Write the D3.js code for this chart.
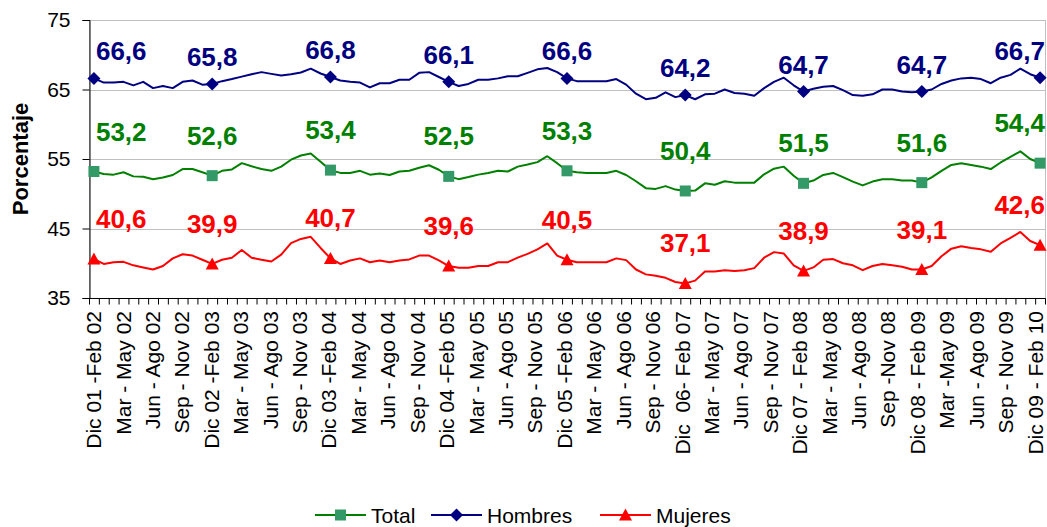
<!DOCTYPE html>
<html><head><meta charset="utf-8">
<script src="https://cdn.jsdelivr.net/npm/d3@7"></script>
<style>
body{margin:0;background:#fff;}
svg{display:block;font-family:Arial,"Liberation Sans",sans-serif;}
</style></head><body>
<svg id="chart" width="1047" height="527"></svg>
<script>
// ---------- data ----------
const tickLabels = [
  "Dic 01 -Feb 02","Mar - May 02","Jun - Ago 02","Sep - Nov 02",
  "Dic 02 -Feb 03","Mar - May 03","Jun - Ago 03","Sep - Nov 03",
  "Dic 03 -Feb 04","Mar - May 04","Jun - Ago 04","Sep - Nov 04",
  "Dic 04 -Feb 05","Mar - May 05","Jun - Ago 05","Sep - Nov 05",
  "Dic 05 -Feb 06","Mar - May 06","Jun - Ago 06","Sep - Nov 06",
  "Dic  06- Feb 07","Mar - May 07","Jun - Ago 07","Sep - Nov 07",
  "Dic 07 - Feb 08","Mar - May 08","Jun - Ago 08","Sep -Nov 08",
  "Dic 08 - Feb 09","Mar -May 09","Jun - Ago 09","Sep - Nov 09",
  "Dic 09 - Feb 10"
];
const total = [
  53.2,52.85,52.75,53.1,52.5,52.45,52.1,52.35,52.7,53.55,53.55,53.1,
  52.6,53.3,53.5,54.4,53.95,53.55,53.3,53.9,54.9,55.5,55.8,54.6,
  53.4,53.0,53.0,53.3,52.75,52.9,52.7,53.2,53.3,53.75,54.1,53.45,
  52.5,52.1,52.4,52.75,53.0,53.3,53.2,53.9,54.2,54.55,55.4,54.4,
  53.3,53.1,53.0,53.0,53.0,53.3,52.7,51.8,50.8,50.7,51.1,50.6,
  50.4,50.45,51.5,51.3,51.8,51.6,51.6,51.6,52.8,53.6,53.9,52.6,
  51.5,51.9,52.7,53.0,52.4,51.75,51.2,51.75,52.1,52.1,51.9,51.9,
  51.6,52.35,53.3,54.15,54.4,54.15,53.9,53.55,54.5,55.3,56.1,55.0,
  54.4
];
const hombres = [
  66.6,66.0,66.0,66.1,65.6,66.1,65.2,65.5,65.2,66.1,66.3,65.7,
  65.8,66.2,66.5,66.85,67.2,67.5,67.25,67.0,67.2,67.45,68.0,67.3,
  66.8,66.3,66.1,66.0,65.3,65.9,65.9,66.4,66.4,67.4,67.5,66.8,
  66.1,65.5,65.8,66.4,66.4,66.6,66.9,66.9,67.4,67.9,68.1,67.5,
  66.6,66.2,66.2,66.2,66.2,66.5,65.7,64.4,63.6,63.8,64.6,63.9,
  64.2,63.6,64.3,64.4,65.0,64.5,64.4,64.1,65.2,66.1,66.7,65.6,
  64.7,65.1,65.4,65.5,64.9,64.2,64.1,64.3,65.0,65.0,64.7,64.6,
  64.7,65.0,65.8,66.3,66.6,66.7,66.5,65.9,66.7,67.1,68.0,67.2,
  66.7
];
const mujeres = [
  40.6,39.9,40.15,40.2,39.7,39.4,39.1,39.6,40.7,41.3,41.1,40.5,
  39.9,40.5,40.8,41.9,40.8,40.5,40.25,41.25,42.9,43.5,43.8,42.2,
  40.7,39.9,40.4,40.7,40.15,40.4,40.15,40.4,40.55,41.1,41.1,40.4,
  39.6,39.35,39.35,39.6,39.6,40.15,40.15,40.8,41.35,42.0,42.85,41.1,
  40.5,40.15,40.15,40.15,40.15,40.7,40.45,39.1,38.4,38.2,37.9,37.3,
  37.1,37.5,38.8,38.8,39.0,38.9,39.0,39.3,40.8,41.6,41.4,39.7,
  38.9,39.4,40.5,40.6,40.0,39.7,39.0,39.6,39.9,39.7,39.5,39.1,
  39.1,39.6,41.0,42.1,42.45,42.2,42.0,41.65,42.85,43.65,44.5,43.2,
  42.6
];
const yTicks = [35, 45, 55, 65, 75];
const seriesNames = ["Total", "Hombres", "Mujeres"];

// ---------- layout / style ----------
const W = 1047, H = 527;
const plot = {left: 89, right: 1045, top: 20, bottom: 298};
const labelEvery = 3, markerEvery = 12;
const styles = {
  Total:   {line: "#008000", marker: "#339966", label: "#008000", shape: "square",   off: 31},
  Hombres: {line: "#000080", marker: "#000080", label: "#000080", shape: "diamond",  off: 18},
  Mujeres: {line: "#ff0000", marker: "#ff0000", label: "#ff0000", shape: "triangle", off: 31}
};
const values = {Total: total, Hombres: hombres, Mujeres: mujeres};
const n = total.length;

const svg = d3.select("#chart");

const x = d3.scaleLinear().domain([-0.5, n - 0.5]).range([plot.left, plot.right]);
const y = d3.scaleLinear().domain([35, 75]).range([plot.bottom, plot.top]);
// category-label placement (labels sit slightly tighter than the points, as in the source)
const xLabelPos = d3.scaleLinear().domain([0, n - 1]).range([x(0), x(n - 1) - 4.8]);

// plot border
svg.append("rect")
  .attr("x", plot.left + 0.5).attr("y", plot.top + 0.5)
  .attr("width", plot.right - plot.left).attr("height", plot.bottom - plot.top)
  .attr("fill", "none").attr("stroke", "#c0c0c0");

// gridlines
svg.append("g").selectAll("line").data(yTicks.slice(1)).join("line")
  .attr("x1", plot.left).attr("x2", plot.right)
  .attr("y1", d => Math.round(y(d)) + 0.5).attr("y2", d => Math.round(y(d)) + 0.5)
  .attr("stroke", "#c0c0c0").attr("stroke-width", 1);

// y axis
const yAxis = svg.append("g").attr("transform", `translate(${plot.left + 0.5},0)`)
  .call(d3.axisLeft(y).tickValues(yTicks).tickSize(7).tickPadding(12).tickFormat(d3.format("d")));
yAxis.selectAll("path,line").attr("stroke", "#000");
yAxis.selectAll("text").attr("font-size", 21).attr("fill", "#000")
  .attr("font-family", 'Arial,"Liberation Sans",sans-serif');

// x axis: ticks at category boundaries
const xAxis = svg.append("g").attr("transform", `translate(0,${plot.bottom + 0.5})`)
  .call(d3.axisBottom(x).tickValues(d3.range(-0.5, n, 1)).tickSize(6).tickFormat(""));
xAxis.selectAll("path,line").attr("stroke", "#000");
xAxis.select(".domain").attr("d", `M${plot.left},0H${plot.right + 0.5}`);

// x labels
const labelIdx = d3.range(0, n, labelEvery);
const xLab = svg.append("g").attr("transform", `translate(0,${plot.bottom})`)
  .call(d3.axisBottom(xLabelPos).tickValues(labelIdx).tickSize(0).tickFormat(i => tickLabels[i / labelEvery]));
xLab.select(".domain").remove();
xLab.selectAll("text")
  .attr("transform", "rotate(-90)")
  .attr("text-anchor", "end")
  .attr("x", -13).attr("y", 0).attr("dy", "0.32em")
  .attr("font-size", 21).attr("fill", "#000")
  .attr("font-family", 'Arial,"Liberation Sans",sans-serif')
  .style("white-space", "pre");

// y title
svg.append("text")
  .attr("transform", `translate(28,${(plot.top + plot.bottom) / 2}) rotate(-90)`)
  .attr("text-anchor", "middle")
  .attr("font-size", 22).attr("font-weight", "bold").attr("fill", "#000")
  .text("Porcentaje");

// marker shapes
function shapePath(shape) {
  if (shape === "square") return "M-5.5,-5.5H5.5V5.5H-5.5Z";
  if (shape === "diamond") return "M0,-6.5L6.5,0L0,6.5L-6.5,0Z";
  return "M0,-6.5L6.5,5.5H-6.5Z";
}

const line = d3.line().x((d, i) => x(i)).y(d => y(d));
const fmt = v => d3.format(".1f")(v).replace(".", ",");
const markIdx = d3.range(0, n, markerEvery);

seriesNames.forEach(name => {
  const st = styles[name];
  svg.append("path").datum(values[name])
    .attr("d", line).attr("fill", "none")
    .attr("stroke", st.line).attr("stroke-width", 2).attr("stroke-linejoin", "round");
});
seriesNames.forEach(name => {
  const st = styles[name];
  svg.append("g").selectAll("path").data(markIdx).join("path")
    .attr("transform", i => `translate(${x(i)},${y(values[name][i])})`)
    .attr("d", shapePath(st.shape)).attr("fill", st.marker);
});
seriesNames.forEach(name => {
  const st = styles[name];
  svg.append("g").selectAll("text").data(markIdx).join("text")
    .attr("x", i => i === 0 ? x(i) + 2 : (i === n - 1 ? plot.right : x(i)))
    .attr("y", i => y(values[name][i]) - st.off)
    .attr("text-anchor", i => i === 0 ? "start" : (i === n - 1 ? "end" : "middle"))
    .attr("font-size", 26).attr("font-weight", "bold").attr("fill", st.label)
    .text(i => fmt(values[name][i]));
});

// legend
const legendX = [315, 431, 600];
const legendY = 515;
const leg = svg.append("g");
seriesNames.forEach((name, k) => {
  const st = styles[name];
  const g = leg.append("g").attr("transform", `translate(${legendX[k]},${legendY})`);
  g.append("line").attr("x1", 0).attr("x2", 51).attr("y1", 0).attr("y2", 0)
    .attr("stroke", st.line).attr("stroke-width", 2);
  g.append("path").attr("transform", "translate(25.5,0)").attr("d", shapePath(st.shape)).attr("fill", st.marker);
  g.append("text").attr("x", 56).attr("y", 0).attr("dy", "0.36em")
    .attr("font-size", 21).attr("fill", "#000").text(name);
});
</script>
</body></html>
